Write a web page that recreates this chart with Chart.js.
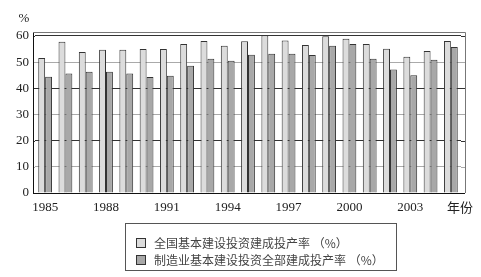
<!DOCTYPE html>
<html>
<head>
<meta charset="utf-8">
<script src="https://cdn.jsdelivr.net/npm/chart.js@4"></script>
<style>
  body { margin: 0; background: #fff; }
  #wrap { position: relative; width: 481px; height: 277px; }
  #legend {
    position: absolute; left: 125px; top: 223px; width: 272px; height: 48px;
    border: 1px solid #555; box-sizing: border-box; padding: 10px 0 0 10px;
    font-family: "Noto Sans CJK SC", sans-serif; font-size: 12px; color: #444;
  }
  .item { display: flex; align-items: center; height: 17px; }
  .box { width: 8px; height: 8px; border: 1px solid #333; margin-right: 8px; }
</style>
</head>
<body>
<div id="wrap">
  <canvas id="chart"></canvas>
  <div id="legend"></div>
</div>
<script>
const years = ['1985', '1986', '1987', '1988', '1989', '1990', '1991', '1992', '1993', '1994',
  '1995', '1996', '1997', '1998', '1999', '2000', '2001', '2002', '2003', '2004', '2005'];
const nationalRate = [51.6, 57.8, 53.9, 54.7, 54.7, 55.0, 55.0, 56.9, 58.1, 56.2,
  58.0, 60.3, 58.3, 56.5, 59.9, 58.9, 56.9, 55.1, 52.0, 54.2, 58.1];
const manufacturingRate = [44.4, 45.6, 46.3, 46.3, 45.6, 44.3, 44.8, 48.6, 51.3, 50.5,
  52.8, 53.2, 53.2, 52.7, 56.2, 56.9, 51.3, 47.2, 45.0, 50.9, 55.8];
const seriesNames = ['全国基本建设投资建成投产率 （%）', '制造业基本建设投资全部建成投产率 （%）'];
const yTicks = [0, 10, 20, 30, 40, 50, 60];

const SERIF = "'Liberation Serif', 'DejaVu Serif', serif";
const colors = ['#dcdcdc', '#a8a8a8'];
const FRAME_LEFT = 33;
const FRAME_RIGHT = 465;
const gridColor = (v) => (v % 20 === 0 ? '#333' : '#aaa');

// 图框（左右略宽于分类区）、单位和“年份”文字
const decorPlugin = {
  id: 'decor',
  beforeDatasetsDraw(chart) {
    const { ctx, chartArea: a, scales } = chart;
    ctx.save();
    ctx.lineWidth = 1;
    yTicks.forEach((v) => {
      const y = Math.round(scales.y.getPixelForValue(v)) + 0.5;
      ctx.strokeStyle = v === 0 ? '#111' : gridColor(v);
      ctx.beginPath();
      ctx.moveTo(FRAME_LEFT, y);
      ctx.lineTo(a.left, y);
      ctx.moveTo(a.right, y);
      ctx.lineTo(FRAME_RIGHT, y);
      ctx.stroke();
    });
    ctx.restore();
  },
  afterDraw(chart) {
    const { ctx, chartArea: a } = chart;
    ctx.save();
    ctx.lineWidth = 1;
    ctx.strokeStyle = '#111';
    ctx.beginPath();
    ctx.moveTo(FRAME_LEFT + 0.5, a.top);
    ctx.lineTo(FRAME_LEFT + 0.5, a.bottom + 0.5);
    ctx.stroke();
    ctx.strokeStyle = '#777';
    ctx.beginPath();
    ctx.moveTo(FRAME_LEFT, a.top + 0.5);
    ctx.lineTo(FRAME_RIGHT + 0.5, a.top + 0.5);
    ctx.lineTo(FRAME_RIGHT + 0.5, a.bottom);
    ctx.stroke();
    ctx.fillStyle = '#222';
    ctx.font = `13px ${SERIF}`;
    ctx.textAlign = 'center';
    ctx.textBaseline = 'middle';
    ctx.fillText('%', 24, 19);
    ctx.font = "13px 'Noto Sans CJK SC', sans-serif";
    ctx.fillText('年份', 460, 207);
    ctx.restore();
  }
};

new Chart(document.getElementById('chart'), {
  type: 'bar',
  data: {
    labels: years,
    datasets: [
      { label: seriesNames[0], data: nationalRate, backgroundColor: colors[0] },
      { label: seriesNames[1], data: manufacturingRate, backgroundColor: colors[1] },
    ],
  },
  options: {
    responsive: true,
    maintainAspectRatio: false,
    animation: false,
    layout: { padding: { left: 0, right: 20, top: 32, bottom: 60 } },
    datasets: {
      bar: {
        borderColor: '#333',
        borderWidth: 1,
        categoryPercentage: 0.68,
        barPercentage: 1.0,
      },
    },
    plugins: { legend: { display: false }, tooltip: { enabled: false } },
    scales: {
      x: {
        grid: { display: false, drawTicks: false },
        border: { color: '#111', width: 1 },
        ticks: {
          autoSkip: false,
          maxRotation: 0,
          padding: 7,
          color: '#222',
          font: { family: SERIF, size: 13 },
          callback: (v, i) => (i % 3 === 0 ? years[i] : ''),
        },
        afterFit: (scale) => { scale.height = 24; },
      },
      y: {
        min: 0,
        max: 61.5,
        afterBuildTicks: (scale) => {
          scale.ticks = yTicks.map((v) => ({ value: v }));
        },
        grid: {
          drawTicks: false,
          color: (c) => (c.tick ? gridColor(c.tick.value) : '#aaa'),
        },
        border: { display: false },
        ticks: {
          padding: 6,
          color: '#222',
          font: { family: SERIF, size: 13 },
        },
        afterFit: (scale) => { scale.width = 35; },
      },
    },
  },
  plugins: [decorPlugin],
});

const legendEl = document.getElementById('legend');
seriesNames.forEach((name, i) => {
  const row = document.createElement('div');
  row.className = 'item';
  row.innerHTML = `<span class="box" style="background:${colors[i]}"></span><span>${name}</span>`;
  legendEl.appendChild(row);
});
</script>
</body>
</html>
